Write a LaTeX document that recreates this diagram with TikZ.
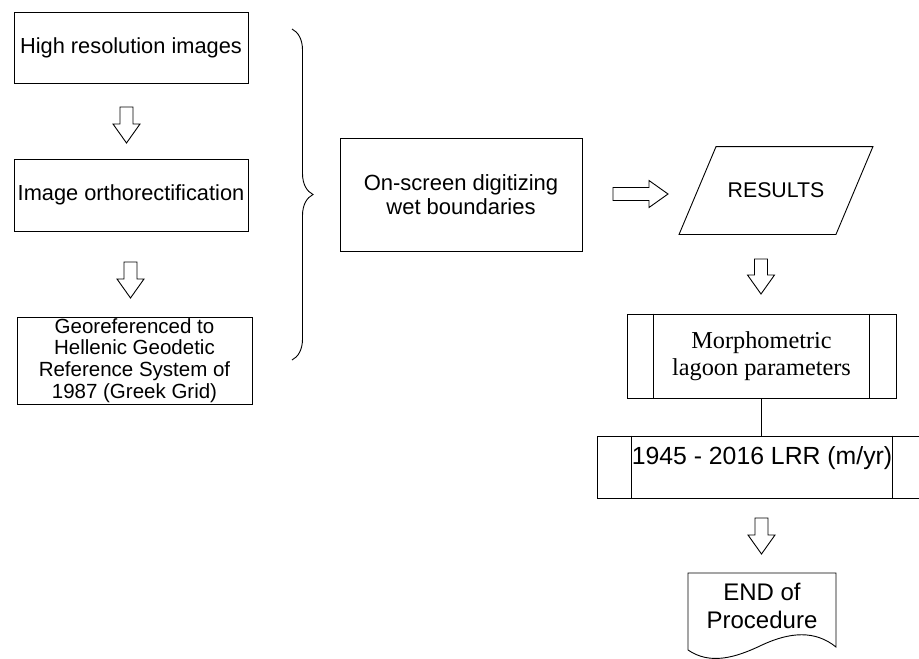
\documentclass[tikz,border=0pt]{standalone}
\usepackage{fontspec}
\setmainfont{Liberation Sans}
\newfontfamily\serifpart{Liberation Serif}
\usetikzlibrary{positioning,calc,decorations.pathreplacing}

\begin{document}
\begin{tikzpicture}[
  x=1pt, y=-1pt,
  line width=0.9pt,
  box/.style={draw, rectangle, inner sep=0pt, align=center},
  bigtxt/.style={font=\fontsize{21.8}{26}\selectfont},
  blockarrow/.pic={
    \draw[line width=0.9pt] (-6.5,0) -- (-6.5,#1-19) -- (-13.5,#1-19) -- (0,#1)
      -- (13.5,#1-19) -- (6.5,#1-19) -- (6.5,0) -- cycle;
  }
]
\useasboundingbox (0,0) rectangle (919,659);

% left: image preparation
\node[box, bigtxt, minimum width=234pt, minimum height=71pt] (hires) at (131,47.5) {High resolution images};
\node[box, bigtxt, minimum width=234pt, minimum height=72pt] (ortho) at (131,195) {Image orthorectification};
\node[box, font=\fontsize{20.5}{21.7}\selectfont, minimum width=235pt, minimum height=87pt] (georef) at (134.5,360.5)
  {Georeferenced to\\Hellenic Geodetic\\Reference System of\\1987 (Greek Grid)};

\pic at (126.5,107) {blockarrow=36};
\pic at (130.5,262) {blockarrow=36};

\draw[decorate, decoration={brace, amplitude=21pt}] (292,29) -- (292,360);

% middle
\node[box, font=\fontsize{22}{24}\selectfont, minimum width=242pt, minimum height=113pt] (digit) at (461,194.5)
  {On-screen digitizing\\wet boundaries};
\pic[rotate=90] at (613,194) {blockarrow=55};

% right: results
\node[inner sep=0pt, minimum width=193pt, minimum height=87pt, font=\fontsize{21.3}{24}\selectfont] (results) at (776,190.5) {RESULTS};
\draw ([xshift=37pt]results.north west) -- (results.north east)
  -- ([xshift=-37pt]results.south east) -- (results.south west) -- cycle;
\pic at (761,259) {blockarrow=35};

\node[box, font=\serifpart\fontsize{24.3}{27}\selectfont, minimum width=269pt, minimum height=84pt] (morph) at (761.5,356)
  {Morphometric\\lagoon parameters};
\draw ([xshift=27pt]morph.north west) -- ([xshift=27pt]morph.south west);
\draw ([xshift=-27pt]morph.north east) -- ([xshift=-27pt]morph.south east);

\node[box, font=\fontsize{24.8}{28}\selectfont, text depth=22pt, minimum width=330pt, minimum height=62pt] (lrr) at (762,467)
  {1945 - 2016 LRR (m/yr)};
\draw ([xshift=35pt]lrr.north west) -- ([xshift=35pt]lrr.south west);
\draw ([xshift=-35pt]lrr.north east) -- ([xshift=-35pt]lrr.south east);
\draw (morph.south) -- (morph.south |- lrr.north);

\pic at (761.5,518) {blockarrow=36};

% end document shape
\node[align=center, inner sep=0pt, font=\fontsize{24}{28}\selectfont] (endproc) at (762,606) {END of\\Procedure};
\draw (688,650) -- (688,573) -- (836,573) -- (836,647)
  .. controls (815,630) and (790,632) .. (762,645)
  .. controls (735,658) and (710,665) .. (688,650);

\end{tikzpicture}
\end{document}
